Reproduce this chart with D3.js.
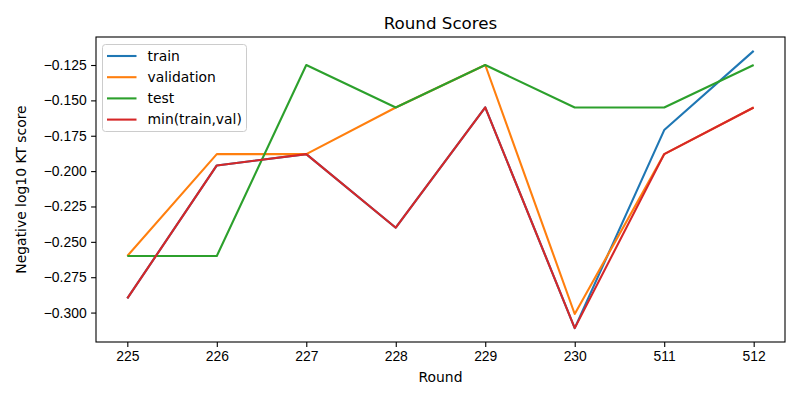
<!DOCTYPE html>
<html>
<head>
<meta charset="utf-8">
<script src="https://cdn.jsdelivr.net/npm/d3@7"></script>
<style>
    body { margin: 0; background: #fff; }
    svg { font-family: 'DejaVu Sans', sans-serif; }
    .axis text { font-size: 13.9px; fill: #000; }
    .axis path, .axis line { stroke: #000; stroke-width: 1.1; }
</style>
</head>
<body>
<div id="chart"></div>
<script>
const rounds = ['225', '226', '227', '228', '229', '230', '511', '512'];
const train = [-0.290, -0.196, -0.188, -0.240, -0.155, -0.311, -0.171, -0.115];
const validation = [-0.260, -0.188, -0.188, -0.155, -0.125, -0.301, -0.188, -0.155];
const test = [-0.260, -0.260, -0.125, -0.155, -0.125, -0.155, -0.155, -0.125];
const minTrainVal = [-0.290, -0.196, -0.188, -0.240, -0.155, -0.311, -0.188, -0.155];
const yTicks = [-0.125, -0.150, -0.175, -0.200, -0.225, -0.250, -0.275, -0.300];

const series = [
    { name: 'train', values: train, color: '#1f77b4' },
    { name: 'validation', values: validation, color: '#ff7f0e' },
    { name: 'test', values: test, color: '#2ca02c' },
    { name: 'min(train,val)', values: minTrainVal, color: '#d62728' }
];

const width = 800,
    height = 400,
    margins = { left: 96, top: 37, right: 15, bottom: 58 },
    innerW = width - margins.left - margins.right,
    innerH = height - margins.top - margins.bottom;

const svg = d3.select('#chart').append('svg')
    .attr('width', width)
    .attr('height', height);

const wrap = svg.append('g')
    .attr('transform', 'translate(' + margins.left + ', ' + margins.top + ')');

// matplotlib style 5% margins
const allValues = train.concat(validation, test, minTrainVal),
    yMin = d3.min(allValues),
    yMax = d3.max(allValues),
    yPad = (yMax - yMin) * 0.05;

const x = d3.scaleLinear()
    .domain([-0.35, rounds.length - 1 + 0.35])
    .range([0, innerW]);

const y = d3.scaleLinear()
    .domain([yMin - yPad, yMax + yPad])
    .range([innerH, 0]);

const line = d3.line()
    .x((d, i) => x(i))
    .y(d => y(d));

series.forEach(s => {
    wrap.append('path')
        .datum(s.values)
        .attr('d', line)
        .attr('fill', 'none')
        .attr('stroke', s.color)
        .attr('stroke-width', 2.1)
        .attr('stroke-linejoin', 'round');
});

// Axises

const axisX = d3.axisBottom(x)
    .tickValues(d3.range(rounds.length))
    .tickFormat(i => rounds[i])
    .tickSizeInner(4.9)
    .tickSizeOuter(0)
    .tickPadding(4.5);

wrap.append('g')
    .attr('class', 'axis')
    .attr('transform', 'translate(0, ' + innerH + ')')
    .call(axisX)
    .select('.domain').remove();

const axisY = d3.axisLeft(y)
    .tickValues(yTicks)
    .tickFormat(d => d3.format('.3f')(d).replace('-', '\u2212'))
    .tickSizeInner(4.9)
    .tickSizeOuter(0)
    .tickPadding(4.5);

wrap.append('g')
    .attr('class', 'axis')
    .call(axisY)
    .select('.domain').remove();

wrap.append('rect')
    .attr('width', innerW)
    .attr('height', innerH)
    .attr('fill', 'none')
    .attr('stroke', '#000')
    .attr('stroke-width', 1.1);

// Labels

svg.append('text')
    .attr('x', margins.left + innerW / 2)
    .attr('y', 29)
    .attr('text-anchor', 'middle')
    .style('font-size', '16.7px')
    .text('Round Scores');

svg.append('text')
    .attr('x', margins.left + innerW / 2)
    .attr('y', 382)
    .attr('text-anchor', 'middle')
    .style('font-size', '13.9px')
    .text('Round');

svg.append('text')
    .attr('transform', 'translate(26, ' + (margins.top + innerH / 2) + ') rotate(-90)')
    .attr('text-anchor', 'middle')
    .style('font-size', '13.9px')
    .text('Negative log10 KT score');

// Legend

const legend = svg.append('g')
    .attr('transform', 'translate(102.5, 44.5)');

legend.append('rect')
    .attr('width', 144)
    .attr('height', 87)
    .attr('rx', 3)
    .attr('fill', '#fff')
    .attr('fill-opacity', 0.8)
    .attr('stroke', '#ccc')
    .attr('stroke-width', 1);

series.forEach((s, i) => {
    const row = legend.append('g')
        .attr('transform', 'translate(0, ' + (11.5 + i * 21.2) + ')');
    row.append('line')
        .attr('x1', 4.5)
        .attr('x2', 34)
        .attr('stroke', s.color)
        .attr('stroke-width', 2.1);
    row.append('text')
        .attr('x', 45)
        .attr('dy', '0.35em')
        .style('font-size', '13.9px')
        .text(s.name);
});
</script>
</body>
</html>
